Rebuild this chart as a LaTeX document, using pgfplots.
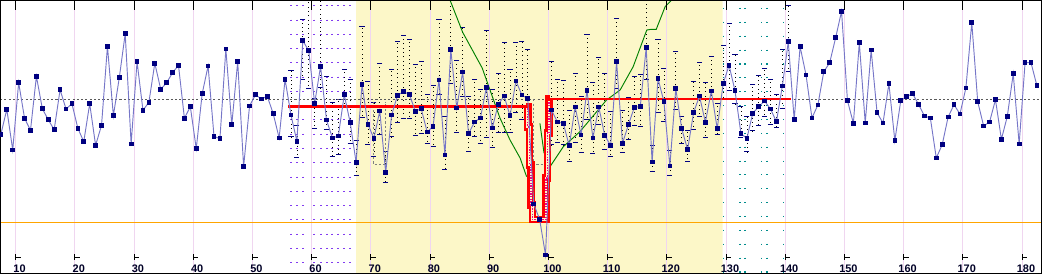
\documentclass[border=0pt]{standalone}
\usepackage{pgfplots}
\pgfplotsset{compat=1.18}
\usepackage{pgfplotstable}
\usepackage{fontspec}
\setmainfont{Liberation Sans}
\definecolor{ptline}{RGB}{118,118,200}
\definecolor{ptmark}{RGB}{0,0,128}
\definecolor{gridpink}{RGB}{240,214,240}
\definecolor{zoneyellow}{RGB}{252,247,200}
\definecolor{cgreen}{RGB}{0,128,0}
\definecolor{corange}{RGB}{255,165,0}
\definecolor{cviolet}{RGB}{130,60,240}
\definecolor{cteal}{RGB}{0,140,140}
\pgfdeclareplotmark{ltick}{%
  \pgfpathmoveto{\pgfqpoint{0pt}{-2.3pt}}\pgfpathlineto{\pgfqpoint{0pt}{2.3pt}}%
  \pgfpathmoveto{\pgfqpoint{0pt}{0pt}}\pgfpathlineto{\pgfqpoint{3.8pt}{0pt}}%
  \pgfusepathqstroke}
\pgfdeclareplotmark{vdash}{%
  \pgfpathmoveto{\pgfqpoint{0pt}{-1.9pt}}\pgfpathlineto{\pgfqpoint{0pt}{1.9pt}}%
  \pgfusepathqstroke}
\pgfplotstableread{
x y
7.5 134.3
8.5 109.3
9.5 150
10.5 82.7
11.5 118.3
12.5 130.3
13.5 76.3
14.5 108.7
15.5 119.7
16.5 129.7
17.5 89.7
18.5 109
19.5 103.7
20.5 128.3
21.5 141.7
22.5 103.7
23.5 145.3
24.5 125.3
25.5 46.3
26.5 115.7
27.5 77.7
28.5 33.7
29.5 144
30.5 61.7
31.5 110.3
32.5 102.3
33.5 63.3
34.5 89.3
35.5 82.7
36.5 72.7
37.5 65.3
38.5 118.3
39.5 106.7
40.5 148.7
41.5 93.7
42.5 66
43.5 136.3
44.5 138.7
45.5 49
46.5 124.7
47.5 61.7
48.5 166.7
49.5 106
50.5 94.7
51.5 99
52.5 96.3
53.5 113.7
54.5 138
55.5 79.3
56.5 115
57.5 141.3
58.5 40.7
59.5 50.7
60.5 103.3
61.5 66.3
62.5 120
63.5 138
64.5 136
65.5 94.7
66.5 122.7
67.5 162.3
68.5 84.7
69.5 124.3
70.5 138.3
71.5 111
72.5 172.7
73.5 115
74.5 95.3
75.5 91.7
76.5 94.3
77.5 111.3
78.5 108.7
79.5 132
80.5 126.3
81.5 80
82.5 155
83.5 49.7
84.5 108
85.5 72
86.5 133.7
87.5 122
88.5 118
89.5 87.7
90.5 128
91.5 104.7
92.5 96
93.5 115.7
94.5 81
95.5 95
96.5 98.7
97.5 204
98.5 219.3
99.5 255
100.5 110
101.5 122
102.5 123.3
103.5 145.7
104.5 107
105.5 135
106.5 90.7
107.5 138
108.5 107
109.5 135.7
110.5 145.3
111.5 61.7
112.5 143.3
113.5 124.7
114.5 107.3
115.5 106.7
116.5 47.7
117.5 162
118.5 78.7
119.5 101.7
120.5 166
121.5 88.7
122.5 128.7
123.5 149.7
124.5 112.7
125.5 96
126.5 122.3
127.5 91
128.5 128.7
129.5 83.7
130.5 65.3
131.5 90.7
132.5 133.3
133.5 138.7
134.5 113.3
135.5 106.7
136.5 101
137.5 109
138.5 121.7
139.5 86
140.5 41.7
141.5 119.7
142.5 46.7
143.5 75
144.5 118
145.5 105
146.5 71.7
147.5 62.7
148.5 37.7
149.5 11.3
150.5 100.7
151.5 123.3
152.5 42.7
153.5 123
154.5 50
155.5 112.7
156.5 123
157.5 83.7
158.5 140.7
159.5 100.7
160.5 96.7
161.5 93.7
162.5 104.3
163.5 116
164.5 118
165.5 158
166.5 144.7
167.5 117
168.5 104.7
169.5 114
170.5 88
171.5 22.7
172.5 101.7
173.5 126
174.5 122
175.5 99.7
176.5 139.3
177.5 116.3
178.5 73.7
179.5 144
180.5 62.7
181.5 62.7
182.5 85.7
}\mydata
\pgfplotstableread{
x y em ep
56.5 115 44.3 21.7
57.5 141.3 16.3 16.7
58.5 40.7 20.7 38.6
59.5 50.7 50.7 37.6
60.5 103.3 4.3 25
61.5 66.3 65.3 21.7
62.5 120 43 10
63.5 138 35 18
64.5 136 36 18.3
65.5 94.7 24.7 11.3
66.5 122.7 42.7 21.3
67.5 162.3 22.3 12.7
68.5 84.7 57.7 33.3
69.5 124.3 42.6 20.7
70.5 138.3 35.6 17.7
71.5 111 47.7 24
72.5 172.7 21.7 10
73.5 115 45.7 22
74.5 95.3 53.6 27.4
75.5 91.7 55.7 27.3
76.5 94.3 54.3 24.4
77.5 111.3 47 24
78.5 108.7 47 24.6
79.5 132 37 11.3
80.5 126.3 41 19.7
81.5 80 60.7 14.3
82.5 155 38 14.3
83.5 49.7 49.7 33.6
84.5 108 47.7 24.3
85.5 72 44.3 24.7
86.5 133.7 37 18
87.5 122 42.3 15
88.5 118 28.7 25.3
89.5 87.7 56.7 50.3
90.5 128 38.7 20
91.5 104.7 31.4 28.3
92.5 96 53.7 37
93.5 115.7 45.7 17.3
94.5 81 38 31.7
95.5 95 53 25
96.5 98.7 48.7 26.3
100.5 110 48 35
101.5 122 42 21
102.5 123.3 42.3 21.7
103.5 145.7 35.7 16.3
104.5 107 33 36
105.5 135 38 18
106.5 90.7 55.7 29.3
107.5 138 55 16
108.5 107 49 18
109.5 135.7 61.7 14.3
110.5 145.3 33.3 11.7
111.5 61.7 42.7 27.3
112.5 143.3 33.3 9.7
113.5 124.7 26.7 15.3
114.5 107.3 30.6 18.7
115.5 106.7 31.7 20
116.5 47.7 47.7 32.3
117.5 162 16.3 9
118.5 78.7 38.7 34.3
119.5 101.7 32.7 20.3
120.5 166 15.3 9
121.5 88.7 36.7 21.3
122.5 128.7 12 14.6
123.5 149.7 19.7 11.3
124.5 112.7 30.7 17.3
125.5 96 33.7 20.7
126.5 122.3 39.3 15.7
127.5 91 34.3 7.3
128.5 128.7 24.7 6.3
129.5 83.7 37.7 14.6
130.5 65.3 41.3 25.4
131.5 90.7 35.7 13.3
132.5 133.3 26.6 4
133.5 138.7 22 13.3
134.5 113.3 29 17.7
135.5 106.7 31 18.6
136.5 101 32 15.7
137.5 109 29.7 16
138.5 121.7 27.4 6.3
139.5 86 36 22.3
140.5 41.7 35.7 30
}\myerr
\begin{document}
\begin{tikzpicture}
\begin{axis}[
  scale only axis, width=781.5pt, height=205.5pt,
  xmin=7.35, xmax=183.36, ymin=0, ymax=274, y dir=reverse,
  axis on top,
  axis line style={black, line width=0.8pt},
  ytick=\empty,
  xtick={10,20,...,180},
  xticklabels={10,20,30,40,50,60,70,80,90,100,110,120,130,140,150,160,170,180},
  xtick pos=right, xticklabel pos=left,
  tick align=inside, major tick length=7.5pt,
  tick style={black, line width=0.8pt},
  xticklabel style={anchor=center, yshift=4.3pt, xshift=2.9pt, font=\fontsize{8.2}{10}\selectfont\bfseries, text=black!85!blue},
  clip=true,
]
% yellow zone
\addplot[draw=none, fill=zoneyellow] coordinates {(67.5,0) (129.4,0) (129.4,274) (67.5,274)} \closedcycle;
% grid lines
\addplot[ycomb, gridpink, line width=0.8pt, mark=none] coordinates {(10,274)(20,274)(30,274)(40,274)(50,274)(60,274)(70,274)(80,274)(90,274)(100,274)(110,274)(120,274)(130,274)(140,274)(150,274)(160,274)(170,274)(180,274)};
\addplot[ycomb, magenta!35, line width=1.6pt, mark=none] coordinates {(7.4,274)};
% violet and teal full-height dashed columns
\addplot[ycomb, cviolet, line width=1.5pt, dash pattern=on 0.7pt off 10pt, dash phase=-4pt, mark=none] coordinates {(56.45,274)(57.46,274)(58.47,274)(60.43,274)(61.52,274)(62.53,274)(63.48,274)(64.49,274)(65.46,274)(66.47,274)};
\addplot[ycomb, cteal, line width=1.1pt, dash pattern=on 0.8pt off 9.6pt, dash phase=-6pt, mark=none] coordinates {(129.6,274)(132.35,274)(133.2,274)(136.0,274)(136.9,274)(139.66,274)};
% error bars (dotted stems)
\addplot[draw=none, mark=none, forget plot, error bars/.cd, y dir=both, y explicit,
   error bar style={draw=black, line width=0.5pt, dash pattern=on 0.55pt off 2.7pt},
   error mark=vdash,
   error mark options={draw=ptmark, line width=0.75pt, solid}]
   table[x=x, y=y, y error plus=ep, y error minus=em] {\myerr};
% bottom tick marks
\addplot[only marks, mark=ltick, mark options={black, line width=0.7pt}] coordinates {(10,257)(20,257)(30,257)(40,257)(50,257)(60,257)(70,257)(80,257)(90,257)(100,257)(110,257)(120,257)(130,257)(140,257)(150,257)(160,257)(170,257)(180,257)};
% mean line
\addplot[black!65, line width=0.7pt, dash pattern=on 1.6pt off 1.6pt] coordinates {(7.35,99.3) (183.36,99.3)};
% gray dashed boxes
\addplot[black!50, line width=0.6pt, dash pattern=on 1.6pt off 1.6pt] coordinates {(70.4,101.7) (70.4,164.3) (72.4,164.3) (72.4,101.7)};
\addplot[black!50, line width=0.6pt, dash pattern=on 1.6pt off 1.6pt] coordinates {(97.4,99.3) (97.4,164.3) (99.7,164.3) (99.7,99.3)};
% orange limit
\addplot[corange, line width=1pt] coordinates {(7.35,222.3) (183.36,222.3)};
% green curve
\addplot[cgreen, line width=0.7pt] coordinates {(83.36,0) (85.5,32.3) (88.8,68) (91.8,118) (93.5,140) (95.2,158) (96.3,176.7)};
\addplot[cgreen, line width=0.7pt] coordinates {(98.55,123.3) (99.25,153.3)};
\addplot[cgreen, line width=0.7pt] coordinates {(100.25,166.7) (102.5,146.7) (105.3,131.7) (109.8,100) (112.1,90) (114.3,66.7) (116.6,30) (117.4,29.3) (118.2,29.3) (119.7,6.7) (120.8,0)};
% red levels
\addplot[red, line width=2.2pt] coordinates {(56,106.7) (96.5,106.7)};
\addplot[red, line width=2.2pt] coordinates {(100.1,99) (141,99)};
% red tube (step down and up)
\addplot[red, line width=5.4pt, line join=miter] coordinates {(96.25,106.7) (96.53,106.7) (96.53,127) (96.82,127) (96.82,165) (97.04,165) (97.04,205) (97.26,205) (97.26,219.5) (99.41,219.5) (99.58,219.5) (99.58,178) (99.80,178) (99.80,133) (100.08,133) (100.08,99) (100.3,99)};
\addplot[zoneyellow, line width=2.2pt, line join=miter] coordinates {(96.53,108.5) (96.53,127) (96.82,127) (96.82,165) (97.04,165) (97.04,205) (97.26,205) (97.26,219.5) (99.41,219.5) (99.58,219.5) (99.58,178) (99.80,178) (99.80,133) (100.08,133) (100.08,101)};
\addplot[magenta, line width=0.8pt, dash pattern=on 1pt off 1pt] coordinates {(96.53,108.5) (96.53,127) (96.82,127) (96.82,165) (97.04,165) (97.04,205) (97.26,205) (97.26,219.5) (99.41,219.5) (99.58,219.5) (99.58,178) (99.80,178) (99.80,133) (100.08,133) (100.08,101)};
% main series
\addplot[ptline, line width=0.7pt, mark=square*, mark size=1.4pt, mark options={ptmark, fill=ptmark}] table[x=x, y=y] {\mydata};
\end{axis}
\pgfresetboundingbox
\path[use as bounding box] (current axis.south west) rectangle (current axis.north east);
\end{tikzpicture}
\end{document}
